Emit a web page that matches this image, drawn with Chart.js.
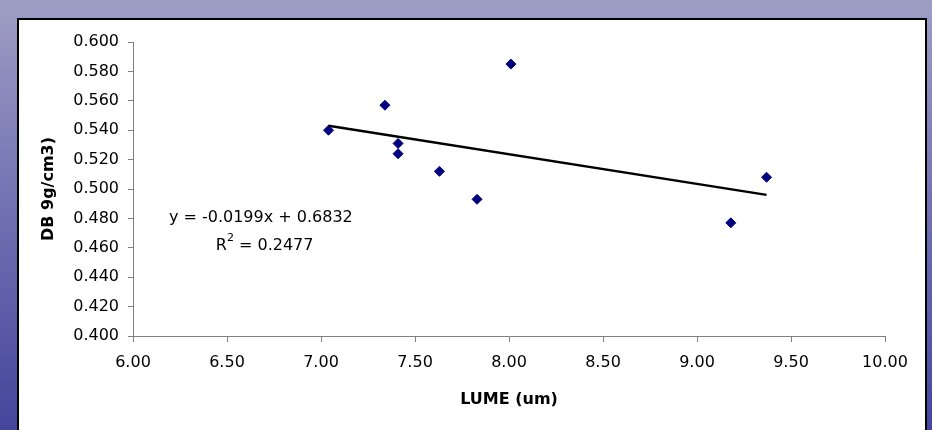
<!DOCTYPE html>
<html>
<head>
<meta charset="utf-8">
<title>DB vs LUME</title>
<script src="https://cdn.jsdelivr.net/npm/chart.js@4.4.0/dist/chart.umd.min.js"></script>
<style>
    html, body {
        margin: 0;
        padding: 0;
        width: 932px;
        height: 430px;
        overflow: hidden;
        background: linear-gradient(to bottom, #9e9ec4 0%, #7474b4 45%, #45459c 100%);
    }
    .sheet {
        position: absolute;
        left: 17px;
        top: 18px;
        width: 906px;
        height: 440px;
        background: #ffffff;
        border: 2px solid #000000;
    }
    .chart-box {
        position: absolute;
        left: 0;
        top: 0;
        width: 932px;
        height: 430px;
    }
</style>
</head>
<body>
<div class="sheet"></div>
<div class="chart-box">
    <canvas id="dbChart"></canvas>
</div>

<script>
// ===== DATA =====
const lumeValues = [7.04, 7.34, 7.41, 7.41, 7.63, 7.83, 8.01, 9.37, 9.18];
const dbValues = [0.540, 0.557, 0.531, 0.524, 0.512, 0.493, 0.585, 0.508, 0.477];

// linear trendline, read at both ends
const trendX = [7.04, 9.37];
const trendY = [0.543, 0.496];

const xTicks = [6.0, 6.5, 7.0, 7.5, 8.0, 8.5, 9.0, 9.5, 10.0];
const yTicks = [0.40, 0.42, 0.44, 0.46, 0.48, 0.50, 0.52, 0.54, 0.56, 0.58, 0.60];

const equationText = "y = -0.0199x + 0.6832";
const rSquaredText = " = 0.2477";

const FONT = "'DejaVu Sans', 'Liberation Sans', Arial, sans-serif";
const AXIS_GREY = "#808080";

// Trendline equation label, placed in data coordinates
const equationLabel = {
    id: "equationLabel",
    afterDatasetsDraw(chart) {
        const ctx = chart.ctx;
        const xs = chart.scales.x;
        const ys = chart.scales.y;

        ctx.save();
        ctx.fillStyle = "#000000";
        ctx.textBaseline = "middle";

        // first line
        ctx.font = "16px " + FONT;
        ctx.textAlign = "center";
        ctx.fillText(equationText, xs.getPixelForValue(6.68), ys.getPixelForValue(0.4805));

        // second line, R with a superscript 2
        const cx = xs.getPixelForValue(6.70);
        const cy = ys.getPixelForValue(0.4615);
        ctx.textAlign = "left";
        ctx.font = "16px " + FONT;
        const wR = ctx.measureText("R").width;
        const wRest = ctx.measureText(rSquaredText).width;
        ctx.font = "11px " + FONT;
        const wSup = ctx.measureText("2").width;
        let x = cx - (wR + wSup + wRest) / 2;

        ctx.font = "16px " + FONT;
        ctx.fillText("R", x, cy);
        x += wR;
        ctx.font = "11px " + FONT;
        ctx.fillText("2", x, cy - 7);
        x += wSup;
        ctx.font = "16px " + FONT;
        ctx.fillText(rSquaredText, x, cy);
        ctx.restore();
    }
};

document.addEventListener("DOMContentLoaded", function () {
    const points = lumeValues.map((v, i) => ({ x: v, y: dbValues[i] }));
    const trend = trendX.map((v, i) => ({ x: v, y: trendY[i] }));

    new Chart(document.getElementById("dbChart"), {
        type: "scatter",
        data: {
            datasets: [
                {
                    label: "DB",
                    data: points,
                    pointStyle: "rectRot",
                    pointRadius: 5,
                    pointHoverRadius: 5,
                    backgroundColor: "#000080",
                    borderColor: "#000080",
                    borderWidth: 1,
                    order: 2,
                },
                {
                    type: "line",
                    label: "Linear",
                    data: trend,
                    borderColor: "#000000",
                    borderWidth: 2.5,
                    pointRadius: 0,
                    fill: false,
                    order: 1,
                },
            ],
        },
        options: {
            responsive: true,
            maintainAspectRatio: false,
            animation: false,
            devicePixelRatio: 1,
            layout: {
                padding: { left: 0, top: 42, right: 47, bottom: 0 },
            },
            plugins: {
                legend: { display: false },
                tooltip: { enabled: false },
            },
            scales: {
                x: {
                    type: "linear",
                    min: 6,
                    max: 10,
                    afterBuildTicks: (scale) => {
                        scale.ticks = xTicks.map((v) => ({ value: v }));
                    },
                    afterFit: (scale) => {
                        scale.height = 94;
                    },
                    ticks: {
                        callback: (v) => Number(v).toFixed(2),
                        font: { family: FONT, size: 16 },
                        color: "#000000",
                        padding: 11,
                        maxRotation: 0,
                    },
                    grid: {
                        drawOnChartArea: false,
                        tickLength: 6,
                        color: AXIS_GREY,
                    },
                    border: { color: AXIS_GREY, width: 1 },
                    title: {
                        display: true,
                        text: "LUME (um)",
                        font: { family: FONT, size: 16, weight: "bold" },
                        color: "#000000",
                        padding: { top: 0, bottom: 21 },
                    },
                },
                y: {
                    type: "linear",
                    min: 0.4,
                    max: 0.6,
                    afterBuildTicks: (scale) => {
                        scale.ticks = yTicks.map((v) => ({ value: v }));
                    },
                    afterFit: (scale) => {
                        scale.width = 133;
                    },
                    ticks: {
                        callback: (v) => Number(v).toFixed(3),
                        font: { family: FONT, size: 16 },
                        color: "#000000",
                        padding: 9,
                    },
                    grid: {
                        drawOnChartArea: false,
                        tickLength: 5,
                        color: AXIS_GREY,
                    },
                    border: { color: AXIS_GREY, width: 1 },
                    title: {
                        display: true,
                        text: "DB 9g/cm3)",
                        font: { family: FONT, size: 16, weight: "bold" },
                        color: "#000000",
                        padding: { top: 39, bottom: 0 },
                    },
                },
            },
        },
        plugins: [equationLabel],
    });
});
</script>
</body>
</html>
